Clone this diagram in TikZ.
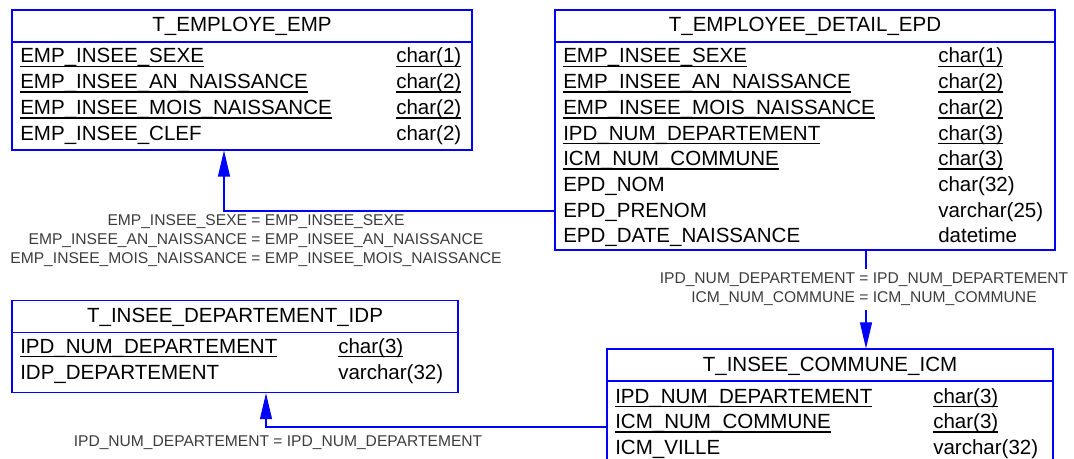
\documentclass[tikz,border=0pt]{standalone}
\usepackage{fontspec}
\setmainfont{Liberation Sans}
\usepackage{tikz}
\usepackage{xcolor}
\usetikzlibrary{arrows.meta,positioning,fit,calc}

\definecolor{erblue}{RGB}{0,0,255}
\definecolor{relgray}{RGB}{60,60,60}
\newcommand{\pkcol}[1]{\setbox0=\hbox{#1}\rlap{\rule[-0.2em]{\wd0}{0.07em}}\box0}

\begin{document}
\begin{tikzpicture}[
        x=0.75pt, y=-0.75pt,
        entity/.style={rectangle, draw=erblue, line width=0.8pt, inner sep=0pt},
        entname/.style={anchor=base, inner sep=0pt, font=\fontsize{15.4pt}{18pt}\selectfont},
        attr/.style={anchor=base west, inner sep=0pt, font=\fontsize{15.4pt}{18pt}\selectfont},
        joinlbl/.style={anchor=base, inner sep=0pt, outer sep=3pt, text=relgray,
                        font=\fontsize{11.7pt}{14pt}\selectfont},
        fk/.style={erblue, line width=0.8pt},
        >={Triangle[length=19.5pt, width=9pt]}
    ]
        \useasboundingbox (0,0) rectangle (1074,459);
        \clip (0,0) rectangle (1074,459);

        % T_EMPLOYE_EMP
        \node[entity, fit={(12,10) (472,42)}] (emp-head) {};
        \node[entity, fit={(12,42) (472,150)}] (emp) {};
        \node[entname] (emp-name) at (242,32) {T\_EMPLOYE\_EMP};
        \node[attr] (emp-1) at (20,63) {\pkcol{EMP\_INSEE\_SEXE}};
        \node[attr] (emp-1t) at (396,63) {\pkcol{char(1)}};
        \node[attr] (emp-2) at (20,88.7) {\pkcol{EMP\_INSEE\_AN\_NAISSANCE}};
        \node[attr] (emp-2t) at (396,88.7) {\pkcol{char(2)}};
        \node[attr] (emp-3) at (20,114.4) {\pkcol{EMP\_INSEE\_MOIS\_NAISSANCE}};
        \node[attr] (emp-3t) at (396,114.4) {\pkcol{char(2)}};
        \node[attr] (emp-4) at (20,140.1) {EMP\_INSEE\_CLEF};
        \node[attr] (emp-4t) at (396,140.1) {char(2)};

        % T_EMPLOYEE_DETAIL_EPD
        \node[entity, fit={(555,10) (1055,42)}] (epd-head) {};
        \node[entity, fit={(555,42) (1055,250)}] (epd) {};
        \node[entname] (epd-name) at (805,32) {T\_EMPLOYEE\_DETAIL\_EPD};
        \node[attr] (epd-1) at (563,63) {\pkcol{EMP\_INSEE\_SEXE}};
        \node[attr] (epd-1t) at (938,63) {\pkcol{char(1)}};
        \node[attr] (epd-2) at (563,88.7) {\pkcol{EMP\_INSEE\_AN\_NAISSANCE}};
        \node[attr] (epd-2t) at (938,88.7) {\pkcol{char(2)}};
        \node[attr] (epd-3) at (563,114.4) {\pkcol{EMP\_INSEE\_MOIS\_NAISSANCE}};
        \node[attr] (epd-3t) at (938,114.4) {\pkcol{char(2)}};
        \node[attr] (epd-4) at (563,140.1) {\pkcol{IPD\_NUM\_DEPARTEMENT}};
        \node[attr] (epd-4t) at (938,140.1) {\pkcol{char(3)}};
        \node[attr] (epd-5) at (563,165.8) {\pkcol{ICM\_NUM\_COMMUNE}};
        \node[attr] (epd-5t) at (938,165.8) {\pkcol{char(3)}};
        \node[attr] (epd-6) at (563,191.5) {EPD\_NOM};
        \node[attr] (epd-6t) at (938,191.5) {char(32)};
        \node[attr] (epd-7) at (563,217.2) {EPD\_PRENOM};
        \node[attr] (epd-7t) at (938,217.2) {varchar(25)};
        \node[attr] (epd-8) at (563,242.9) {EPD\_DATE\_NAISSANCE};
        \node[attr] (epd-8t) at (938,242.9) {datetime};

        % T_INSEE_DEPARTEMENT_IDP
        \node[entity, fit={(12,300.7) (458,332.3)}] (idp-head) {};
        \node[entity, fit={(12,332.3) (458,392.7)}] (idp) {};
        \node[entname] (idp-name) at (235,322.3) {T\_INSEE\_DEPARTEMENT\_IDP};
        \node[attr] (idp-1) at (20,353.3) {\pkcol{IPD\_NUM\_DEPARTEMENT}};
        \node[attr] (idp-1t) at (338,353.3) {\pkcol{char(3)}};
        \node[attr] (idp-2) at (20,379) {IDP\_DEPARTEMENT};
        \node[attr] (idp-2t) at (338,379) {varchar(32)};

        % T_INSEE_COMMUNE_ICM
        \node[entity, fit={(607,349) (1053,381)}] (icm-head) {};
        \node[entity, fit={(607,381) (1053,464)}] (icm) {};
        \node[entname] (icm-name) at (830,371.5) {T\_INSEE\_COMMUNE\_ICM};
        \node[attr] (icm-1) at (615,403) {\pkcol{IPD\_NUM\_DEPARTEMENT}};
        \node[attr] (icm-1t) at (933,403) {\pkcol{char(3)}};
        \node[attr] (icm-2) at (615,428.5) {\pkcol{ICM\_NUM\_COMMUNE}};
        \node[attr] (icm-2t) at (933,428.5) {\pkcol{char(3)}};
        \node[attr] (icm-3) at (615,454) {ICM\_VILLE};
        \node[attr] (icm-3t) at (933,454) {varchar(32)};

        % EPD -> EMP
        \coordinate (j1) at (224,211);
        \draw[fk, ->] (j1 -| epd.west) -| (emp.south -| j1);
        \node[joinlbl] (l1a) at (256,226) {EMP\_INSEE\_SEXE = EMP\_INSEE\_SEXE};
        \node[joinlbl] (l1b) at (256,245) {EMP\_INSEE\_AN\_NAISSANCE = EMP\_INSEE\_AN\_NAISSANCE};
        \node[joinlbl] (l1c) at (256,264) {EMP\_INSEE\_MOIS\_NAISSANCE = EMP\_INSEE\_MOIS\_NAISSANCE};

        % EPD -> ICM
        \coordinate (j2) at (866,300);
        \node[joinlbl] (l2a) at (864,284) {IPD\_NUM\_DEPARTEMENT = IPD\_NUM\_DEPARTEMENT};
        \node[joinlbl] (l2b) at (864,303) {ICM\_NUM\_COMMUNE = ICM\_NUM\_COMMUNE};
        \draw[fk] (epd.south -| j2) -- (l2a.north -| j2);
        \draw[fk, ->] (l2b.south -| j2) -- (icm-head.north -| j2);

        % ICM -> IDP
        \coordinate (j3) at (266,427);
        \draw[fk, ->] (j3 -| icm.west) -| (idp.south -| j3);
        \node[joinlbl] (l3) at (278,446) {IPD\_NUM\_DEPARTEMENT = IPD\_NUM\_DEPARTEMENT};
    \end{tikzpicture}
\end{document}
